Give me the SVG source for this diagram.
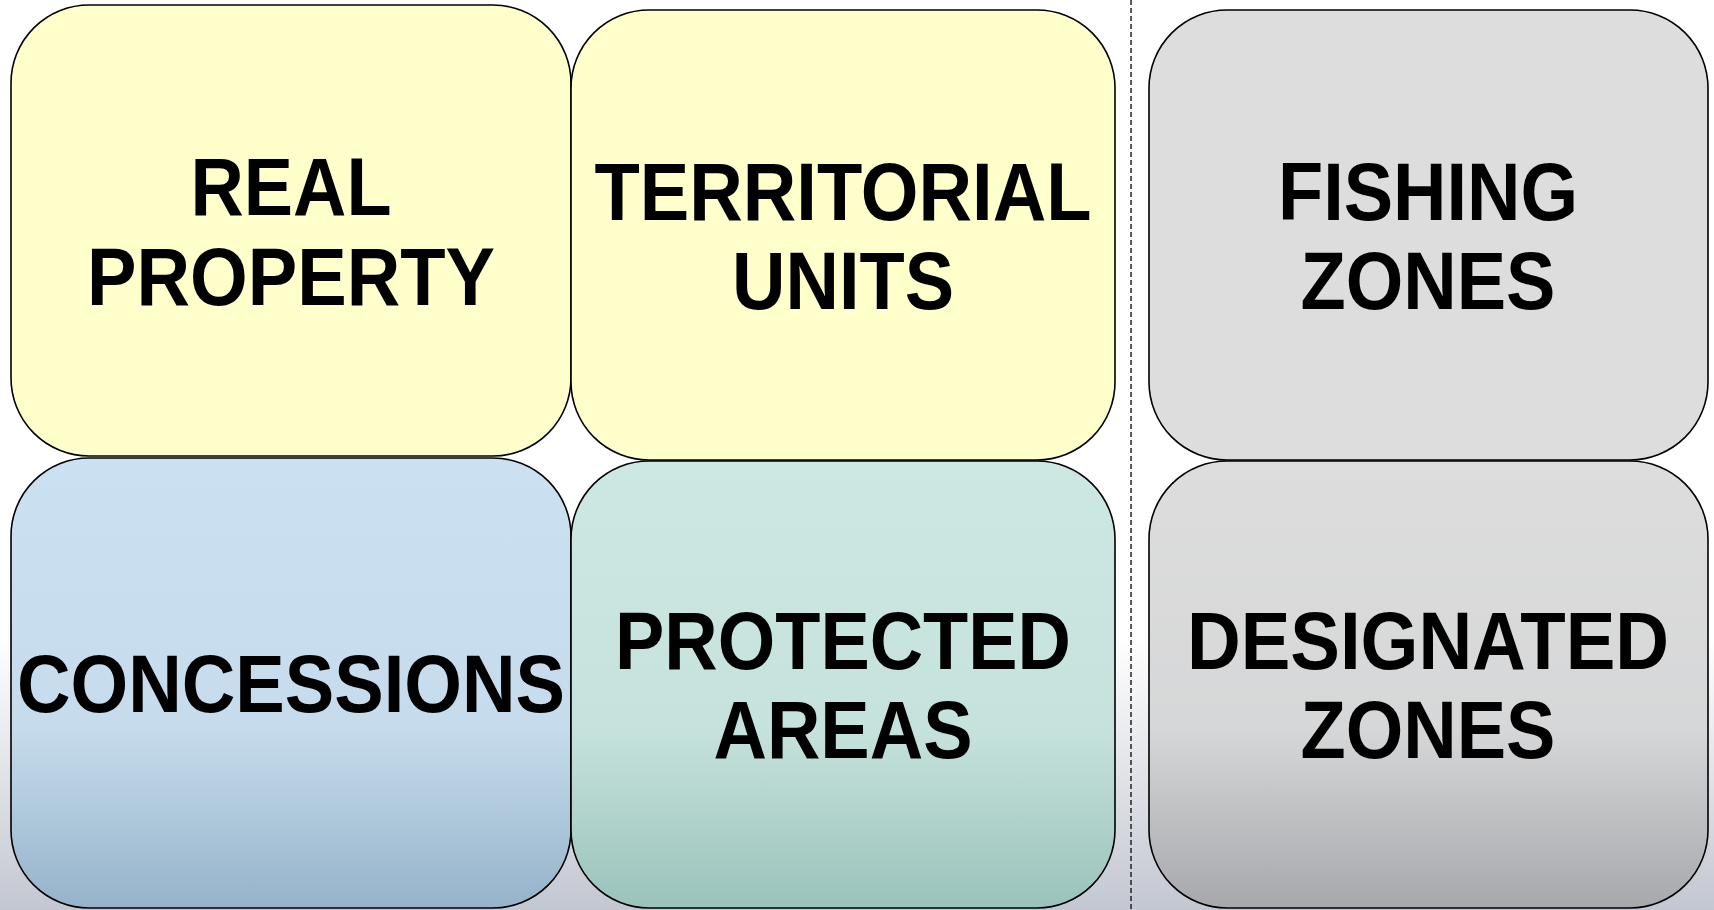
<svg xmlns="http://www.w3.org/2000/svg" width="1714" height="910" viewBox="0 0 1714 910">
<defs>
<linearGradient id="bg" x1="0" y1="0" x2="0" y2="1">
<stop offset="0" stop-color="#ffffff"/>
<stop offset="0.7" stop-color="#ffffff"/>
<stop offset="1" stop-color="#c3c7d1"/>
</linearGradient>
<linearGradient id="gBlue" x1="0" y1="0" x2="0" y2="1">
<stop offset="0" stop-color="#cbe0f1"/>
<stop offset="0.6" stop-color="#c6dcec"/>
<stop offset="1" stop-color="#96b3ca"/>
</linearGradient>
<linearGradient id="gGreen" x1="0" y1="0" x2="0" y2="1">
<stop offset="0" stop-color="#cde8e3"/>
<stop offset="0.6" stop-color="#c6e2dc"/>
<stop offset="1" stop-color="#9ac3bb"/>
</linearGradient>
<linearGradient id="gGray" x1="0" y1="0" x2="0" y2="1">
<stop offset="0" stop-color="#dddddd"/>
<stop offset="0.6" stop-color="#d6d7d8"/>
<stop offset="1" stop-color="#a6a8ac"/>
</linearGradient>
</defs>
<style>
.box{stroke:#000;stroke-width:1.6}
.yellow{fill:#ffffcc}
.gray{fill:#dddddd}
.lbl{font-family:"Liberation Sans",Arial,sans-serif;font-weight:bold;font-size:82px;fill:#000;text-anchor:middle}
.div{stroke:#222;stroke-width:1.5;stroke-dasharray:5 3;fill:none}
</style>
<rect x="0" y="0" width="1714" height="910" fill="url(#bg)"/>
<g id="divider">
<line class="div" x1="1131" y1="0" x2="1131" y2="910"/>
</g>
<g id="real-property">
<rect class="box yellow" x="11" y="5" width="560" height="451" rx="78" ry="78"/>
<text class="lbl" x="291" y="215" textLength="201" lengthAdjust="spacingAndGlyphs">REAL</text>
<text class="lbl" x="291" y="305" textLength="408" lengthAdjust="spacingAndGlyphs">PROPERTY</text>
</g>
<g id="territorial-units">
<rect class="box yellow" x="571" y="10" width="544" height="450" rx="78" ry="78"/>
<text class="lbl" x="843" y="220" textLength="497" lengthAdjust="spacingAndGlyphs">TERRITORIAL</text>
<text class="lbl" x="843" y="309" textLength="222" lengthAdjust="spacingAndGlyphs">UNITS</text>
</g>
<g id="fishing-zones">
<rect class="box gray" x="1149" y="10" width="559" height="450" rx="78" ry="78"/>
<text class="lbl" x="1428" y="220" textLength="300" lengthAdjust="spacingAndGlyphs">FISHING</text>
<text class="lbl" x="1428" y="309" textLength="255" lengthAdjust="spacingAndGlyphs">ZONES</text>
</g>
<g id="concessions">
<rect class="box" fill="url(#gBlue)" x="11" y="458" width="560" height="450" rx="78" ry="78"/>
<text class="lbl" x="291" y="712" textLength="548" lengthAdjust="spacingAndGlyphs">CONCESSIONS</text>
</g>
<g id="protected-areas">
<rect class="box" fill="url(#gGreen)" x="571" y="461" width="544" height="447" rx="78" ry="78"/>
<text class="lbl" x="843" y="669" textLength="456" lengthAdjust="spacingAndGlyphs">PROTECTED</text>
<text class="lbl" x="843" y="758" textLength="259" lengthAdjust="spacingAndGlyphs">AREAS</text>
</g>
<g id="designated-zones">
<rect class="box" fill="url(#gGray)" x="1149" y="461" width="559" height="447" rx="78" ry="78"/>
<text class="lbl" x="1428" y="669" textLength="482" lengthAdjust="spacingAndGlyphs">DESIGNATED</text>
<text class="lbl" x="1428" y="758" textLength="255" lengthAdjust="spacingAndGlyphs">ZONES</text>
</g>
<g id="connectors"></g>
</svg>
